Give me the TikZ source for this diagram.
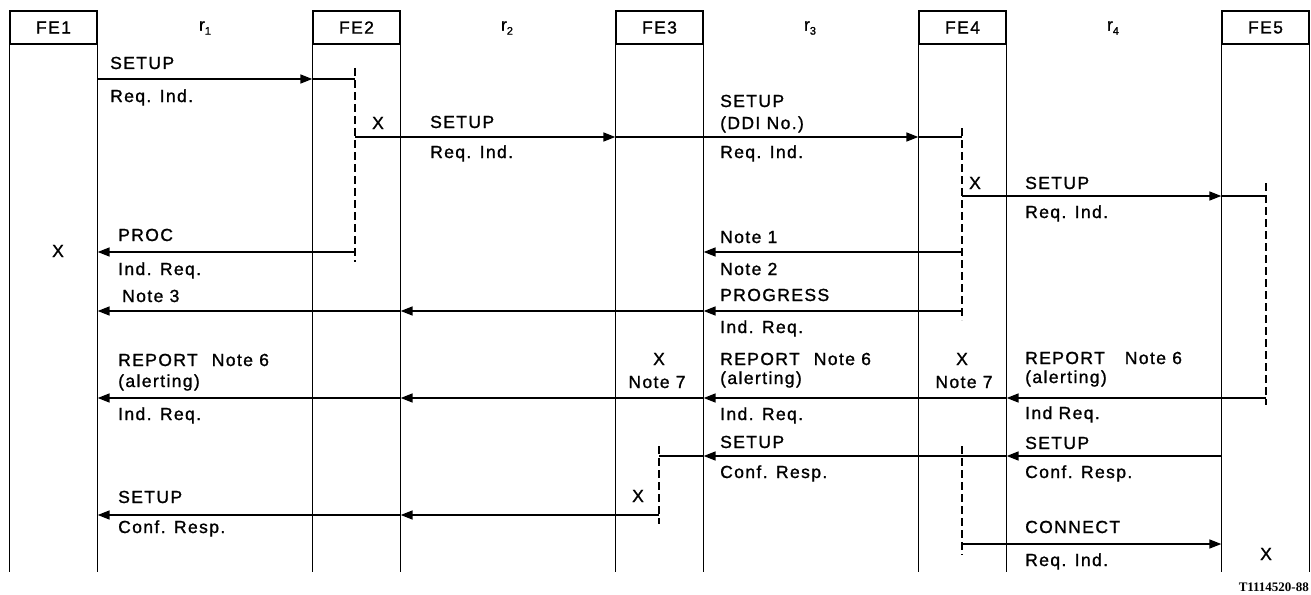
\documentclass[tikz,border=0pt]{standalone}
\usepackage{fontspec}
\setmainfont{Liberation Sans}
\newfontfamily\lab[LetterSpace=8,FakeBold=1.2]{Liberation Sans}
\newfontfamily\codefont{Liberation Serif}
\usetikzlibrary{arrows.meta,calc}
\begin{document}
\begin{tikzpicture}[x=1pt,y=-1pt,
  fe/.style={draw,line width=1.3pt,minimum width=87pt,minimum height=33pt,inner sep=0pt,font=\lab\fontsize{17.5}{17.5}\selectfont},
  life/.style={line width=1.6pt},
  msg/.style={line width=1.6pt},
  arr/.style={msg,-{Triangle[length=12pt,width=9pt]}},
  act/.style={line width=1.3pt,dash pattern=on 8pt off 4pt},
  lbl/.style={anchor=base west,inner sep=0pt,font=\lab\fontsize{17.5}{17.5}\selectfont},
  lblc/.style={anchor=base,inner sep=0pt,font=\lab\fontsize{17.5}{17.5}\selectfont},
  ref/.style={anchor=center,inner sep=0pt,font=\lab\fontsize{17.5}{17.5}\selectfont},
]
\useasboundingbox (0,0) rectangle (1311,594);

% functional entities
\node[fe] (fe1) at (53.5,27.5) {FE1};
\node[fe] (fe2) at (356.5,27.5) {FE2};
\node[fe] (fe3) at (659.5,27.5) {FE3};
\node[fe] (fe4) at (962.5,27.5) {FE4};
\node[fe] (fe5) at (1265.5,27.5) {FE5};

% relationships
\node[ref] (r1) at (205,28) {r\raisebox{-4pt}{\fontsize{11}{11}\selectfont 1}};
\node[ref] (r2) at (507,28) {r\raisebox{-4pt}{\fontsize{11}{11}\selectfont 2}};
\node[ref] (r3) at (810,28) {r\raisebox{-4pt}{\fontsize{11}{11}\selectfont 3}};
\node[ref] (r4) at (1113,28) {r\raisebox{-4pt}{\fontsize{11}{11}\selectfont 4}};

% lifelines
\coordinate (yb) at (0,572);
\foreach \f in {fe1,fe2,fe3,fe4,fe5}{
  \draw[life] (\f.south west) -- (\f.south west |- yb);
  \draw[life] (\f.south east) -- (\f.south east |- yb);
}

% levels
\coordinate (y1) at (0,79);
\coordinate (y2) at (0,137);
\coordinate (y3) at (0,196);
\coordinate (y4) at (0,252);
\coordinate (y6) at (0,311);
\coordinate (y7) at (0,398);
\coordinate (y8) at (0,456);
\coordinate (y9) at (0,515);
\coordinate (y10) at (0,544);

% dashed activity lines
\coordinate (d2t) at (355,68);  \coordinate (d2b) at (355,262);
\coordinate (d4t) at (962,128); \coordinate (d4b) at (962,320);
\coordinate (d5t) at (1266,183); \coordinate (d5b) at (1266,405);
\coordinate (d3t) at (659,446); \coordinate (d3b) at (659,524);
\coordinate (e4t) at (962,446); \coordinate (e4b) at (962,555);
\draw[act] (d2t) -- (d2b);
\draw[act] (d4t) -- (d4b);
\draw[act] (d5t) -- (d5b);
\draw[act] (d3t) -- (d3b);
\draw[act] (e4t) -- (e4b);

% messages
\draw[arr] (fe1.east |- y1) -- (fe2.west |- y1);
\draw[msg] (fe2.west |- y1) -- (d2t |- y1);

\draw[msg] (d2t |- y2) -- (fe2.east |- y2);
\draw[arr] (fe2.east |- y2) -- (fe3.west |- y2);
\draw[msg] (fe3.west |- y2) -- (fe3.east |- y2);
\draw[arr] (fe3.east |- y2) -- (fe4.west |- y2);
\draw[msg] (fe4.west |- y2) -- (d4t |- y2);

\draw[arr] (d4t |- y3) -- (fe5.west |- y3);
\draw[msg] (fe5.west |- y3) -- (d5t |- y3);

\draw[arr] (d2t |- y4) -- (fe1.east |- y4);
\draw[arr] (d4t |- y4) -- (fe3.east |- y4);

\draw[arr] (d4t |- y6) -- (fe3.east |- y6);
\draw[arr] (fe3.east |- y6) -- (fe2.east |- y6);
\draw[arr] (fe2.east |- y6) -- (fe1.east |- y6);

\draw[arr] (d5t |- y7) -- (fe4.east |- y7);
\draw[arr] (fe4.east |- y7) -- (fe3.east |- y7);
\draw[arr] (fe3.east |- y7) -- (fe2.east |- y7);
\draw[arr] (fe2.east |- y7) -- (fe1.east |- y7);

\draw[arr] (fe5.west |- y8) -- (fe4.east |- y8);
\draw[arr] (fe4.east |- y8) -- (fe3.east |- y8);
\draw[msg] (fe3.east |- y8) -- (d3t |- y8);

\draw[arr] (d3t |- y9) -- (fe2.east |- y9);
\draw[arr] (fe2.east |- y9) -- (fe1.east |- y9);

\draw[arr] (e4t |- y10) -- (fe5.west |- y10);

% labels
\node[lbl] (l1a) at (110,69) {SETUP};
\node[lbl] (l1b) at (110,102) {Req. Ind.};
\node[lblc] (x2) at (378,129) {X};
\node[lbl] (l2a) at (430,128) {SETUP};
\node[lbl] (l2b) at (430,158) {Req. Ind.};
\node[lbl] (l3a) at (720,107) {SETUP};
\node[lbl] (l3b) at (720,129) {(DDI No.)};
\node[lbl] (l3c) at (720,158) {Req. Ind.};
\node[lblc] (x4) at (975,189) {X};
\node[lbl] (l4a) at (1025,189) {SETUP};
\node[lbl] (l4b) at (1025,218) {Req. Ind.};
\node[lblc] (x1) at (58,257) {X};
\node[lbl] (l5a) at (118,241) {PROC};
\node[lbl] (l5b) at (118,275) {Ind. Req.};
\node[lbl] (l6a) at (720,243) {Note 1};
\node[lbl] (l6b) at (720,275) {Note 2};
\node[lbl] (l7a) at (122,302) {Note 3};
\node[lbl] (l7b) at (720,301) {PROGRESS};
\node[lbl] (l7c) at (720,333) {Ind. Req.};
\node[lbl] (l8a) at (118,366) {REPORT\hspace{14pt}Note 6};
\node[lbl] (l8b) at (118,387) {(alerting)};
\node[lbl] (l8c) at (118,420) {Ind. Req.};
\node[lblc] (x3) at (659,365) {X};
\node[lblc] (n3) at (657,388) {Note 7};
\node[lbl] (l9a) at (720,365) {REPORT\hspace{14pt}Note 6};
\node[lbl] (l9b) at (720,384) {(alerting)};
\node[lbl] (l9c) at (720,420) {Ind. Req.};
\node[lblc] (x5) at (962,365) {X};
\node[lblc] (n5) at (964,388) {Note 7};
\node[lbl] (l10a) at (1025,364) {REPORT\hspace{20pt}Note 6};
\node[lbl] (l10b) at (1025,383) {(alerting)};
\node[lbl] (l10c) at (1025,419) {Ind Req.};
\node[lbl] (l11a) at (720,448) {SETUP};
\node[lbl] (l11b) at (720,478) {Conf. Resp.};
\node[lbl] (l12a) at (1025,449) {SETUP};
\node[lbl] (l12b) at (1025,478) {Conf. Resp.};
\node[lblc] (x6) at (638,502) {X};
\node[lbl] (l13a) at (118,503) {SETUP};
\node[lbl] (l13b) at (118,533) {Conf. Resp.};
\node[lbl] (l14a) at (1025,533) {CONNECT};
\node[lbl] (l14b) at (1025,566) {Req. Ind.};
\node[lblc] (x7) at (1266,560) {X};

\node[anchor=base east,inner sep=0pt,font=\codefont\bfseries\fontsize{13}{13}\selectfont] (code) at (1309,591) {T1114520-88};
\end{tikzpicture}
\end{document}
